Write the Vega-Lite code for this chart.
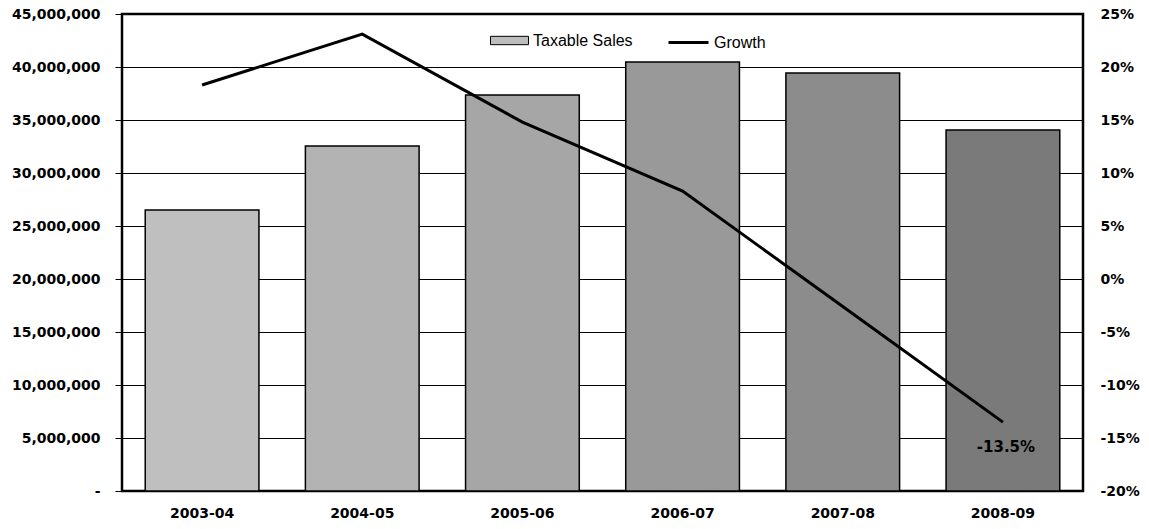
{
  "$schema": "https://vega.github.io/schema/vega-lite/v6.json",
  "width": 961,
  "height": 477,
  "autosize": {"type": "none"},
  "padding": {"left": 122, "top": 14, "right": 66, "bottom": 38},
  "background": "white",
  "config": {
    "locale": {"number": {"decimal": ".", "thousands": ",", "grouping": [3], "currency": ["$", ""], "minus": "-"}},
    "view": {"stroke": "black", "strokeWidth": 2.5},
    "axis": {"labelColor": "black", "labelFont": "DejaVu Sans", "labelFontWeight": "bold", "labelFontSize": 14, "title": null, "domain": false},
    "legend": {"labelFont": "Liberation Sans", "labelFontSize": 16, "labelColor": "black", "title": null}
  },
  "data": {
    "values": [
      {"year": "2003-04", "sales": 26500000, "growth": 0.183},
      {"year": "2004-05", "sales": 32550000, "growth": 0.231},
      {"year": "2005-06", "sales": 37360000, "growth": 0.148},
      {"year": "2006-07", "sales": 40470000, "growth": 0.083},
      {"year": "2007-08", "sales": 39430000, "growth": -0.026},
      {"year": "2008-09", "sales": 34060000, "growth": -0.135}
    ]
  },
  "encoding": {
    "x": {
      "field": "year",
      "type": "nominal",
      "sort": null,
      "scale": {"paddingInner": 0.29, "paddingOuter": 0.145},
      "axis": {"labelAngle": 0, "ticks": false, "labelPadding": 15}
    }
  },
  "layer": [
    {
      "mark": {"type": "bar", "stroke": "black", "strokeWidth": 1.5},
      "encoding": {
        "y": {
          "field": "sales",
          "type": "quantitative",
          "scale": {"domain": [0, 45000000], "nice": false},
          "axis": {
            "values": [0, 5000000, 10000000, 15000000, 20000000, 25000000, 30000000, 35000000, 40000000, 45000000],
            "labelExpr": "datum.value == 0 ? '-\u2007\u2007\u2009' : format(datum.value, ',')",
            "grid": true, "gridColor": "black", "gridWidth": 1, "gridOpacity": 1,
            "ticks": true, "tickColor": "black", "tickSize": 7, "tickWidth": 1,
            "labelPadding": 15
          }
        },
        "color": {
          "field": "year",
          "type": "nominal",
          "sort": null,
          "scale": {"range": ["#bfbfbf", "#b3b3b3", "#a6a6a6", "#999999", "#8c8c8c", "#7a7a7a"]},
          "legend": null
        },
        "opacity": {
          "datum": "Taxable Sales",
          "type": "nominal",
          "scale": {"range": [1]},
          "legend": {
            "orient": "none", "legendX": 368, "legendY": 7,
            "symbolType": "M-1,-0.22H1V0.22H-1Z", "symbolSize": 1444,
            "symbolFillColor": "#bdbdbd", "symbolStrokeColor": "black", "symbolStrokeWidth": 1
          }
        }
      }
    },
    {
      "mark": {"type": "line", "strokeWidth": 3},
      "encoding": {
        "y": {
          "field": "growth",
          "type": "quantitative",
          "scale": {"domain": [-0.2, 0.25], "nice": false},
          "axis": {
            "orient": "right",
            "values": [-0.2, -0.15, -0.1, -0.05, 0, 0.05, 0.1, 0.15, 0.2, 0.25],
            "format": ".0%",
            "grid": false, "ticks": false, "tickSize": 0,
            "labelPadding": 17
          }
        },
        "stroke": {
          "datum": "Growth",
          "type": "nominal",
          "scale": {"range": ["black"]},
          "legend": {
            "orient": "none", "legendX": 545, "legendY": 7,
            "symbolSize": 1600, "symbolStrokeWidth": 3
          }
        }
      }
    },
    {
      "transform": [{"filter": "datum.year == '2008-09'"}],
      "mark": {"type": "text", "font": "DejaVu Sans", "fontWeight": "bold", "fontSize": 15, "dy": 25, "dx": 3, "color": "black"},
      "encoding": {
        "y": {"field": "growth", "type": "quantitative", "scale": {"domain": [-0.2, 0.25], "nice": false}, "axis": null},
        "text": {"field": "growth", "type": "quantitative", "format": ".1%"}
      }
    }
  ],
  "resolve": {"scale": {"y": "independent", "opacity": "independent", "stroke": "independent"}}
}
